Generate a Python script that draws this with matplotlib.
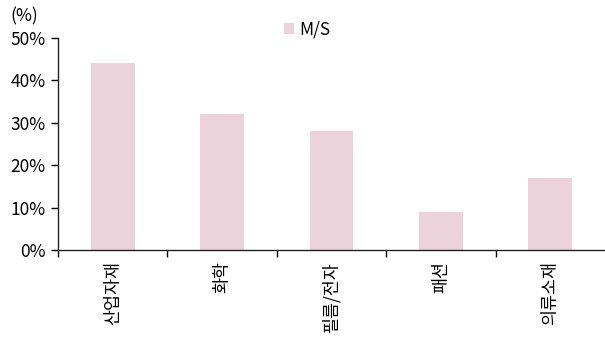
import matplotlib
matplotlib.use("Agg")
import matplotlib.pyplot as plt
import numpy as np

plt.rcParams['font.family'] = ['Noto Sans CJK KR', 'DejaVu Sans']

categories = ['산업자재', '화학', '필름/전자', '패션', '의류소재']
share = [44, 32, 28, 9, 17]
series_name = 'M/S'
y_ticks = [0, 10, 20, 30, 40, 50]

bar_color = '#ECD2DB'
fs = 12.5

fig = plt.figure(figsize=(6.05, 3.4), dpi=100)
ax = fig.add_axes([0.096, 0.265, 0.904, 0.623])

x = np.arange(len(categories))
ax.bar(x, share, width=0.4, color=bar_color, label=series_name, zorder=2)

ax.set_xlim(-0.5, len(categories) - 0.5)
ax.set_ylim(0, 50)
ax.set_yticks(y_ticks)
ax.set_yticklabels([f'{v}%' for v in y_ticks], fontsize=fs)

# boundary ticks between categories, labels at bar centres
ax.set_xticks(np.arange(-0.5, len(categories) - 0.5, 1.0))
ax.set_xticklabels([])
ax.set_xticks(x, minor=True)
ax.set_xticklabels(categories, minor=True, rotation=90, fontsize=fs, va='top')
ax.tick_params(axis='x', which='major', direction='out', length=5, width=1)
ax.tick_params(axis='x', which='minor', length=0, pad=8)
ax.tick_params(axis='y', direction='out', length=5, width=1, pad=4)

for s in ['top', 'right']:
    ax.spines[s].set_visible(False)
for s in ['left', 'bottom']:
    ax.spines[s].set_linewidth(1)
    ax.spines[s].set_color('#222222')

fig.text(0.017, 0.925, '(%)', fontsize=fs, ha='left', va='bottom')

ax.legend(loc='lower center', bbox_to_anchor=(0.455, 0.965), frameon=False,
          fontsize=fs, handlelength=0.6, handleheight=0.6, handletextpad=0.3,
          borderaxespad=0)

fig.savefig('out.png', dpi=100)
